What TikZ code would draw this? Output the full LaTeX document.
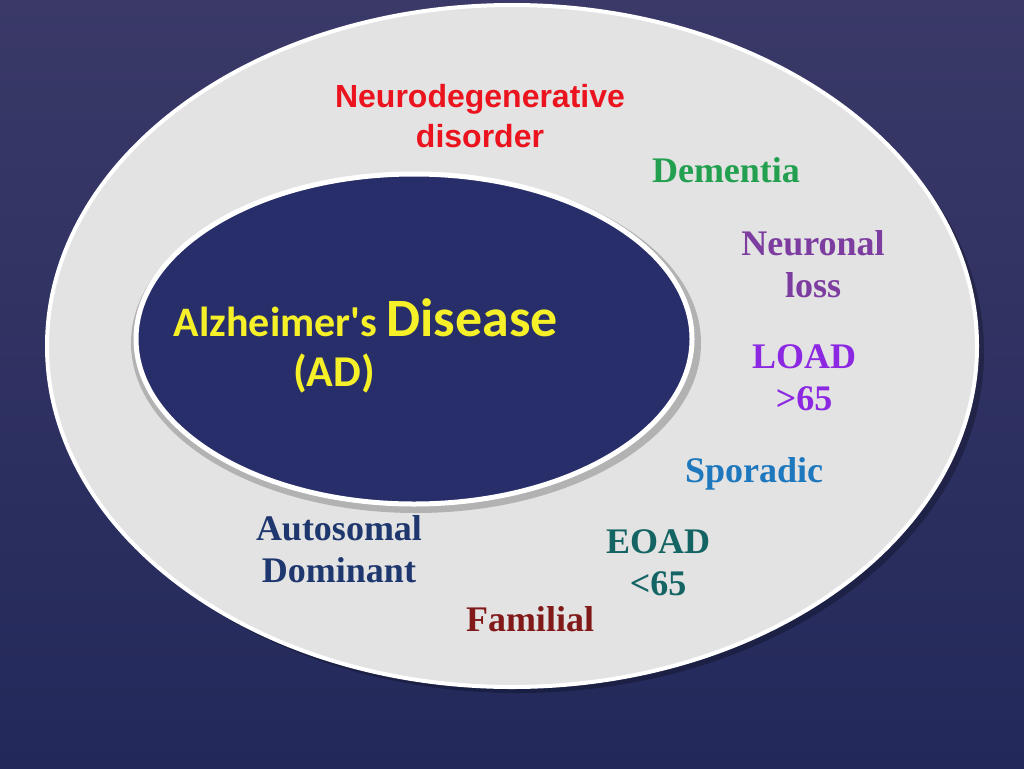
\documentclass[tikz,border=0pt]{standalone}
\usepackage{fontspec}
\usetikzlibrary{shapes.geometric}
\setmainfont{Liberation Serif}
\newfontfamily\hsans{Liberation Sans}
\newfontfamily\carl{Carlito}
\begin{document}
\begin{tikzpicture}[x=1pt,y=-1pt,
  lab/.style={font=\bfseries\fontsize{36}{42}\selectfont,align=center},
  yel/.style={font=\carl\bfseries,text={rgb,255:red,245;green,240;blue,40}}]
\definecolor{bgA}{HTML}{3A3968}\definecolor{bgB}{HTML}{22295A}
\shade[top color=bgA,bottom color=bgB] (0,0) rectangle (1024,768);
\useasboundingbox (0,0) rectangle (1024,768);
\fill[black,opacity=0.25] (518,352) ellipse [x radius=466,y radius=341];
\node[ellipse,draw=white,line width=4pt,fill=gray!22,minimum width=930,minimum height=682,inner sep=0] (outer) at (512,346) {};
\fill[gray!60] (416,343) ellipse [x radius=285,y radius=170];
\node[draw=white,line width=5pt,fill={rgb,255:red,40;green,46;blue,105},minimum width=556,minimum height=330,inner sep=0,shape=ellipse] (inner) at (414,339) {};
\node[font=\hsans\bfseries\fontsize{32}{40}\selectfont,text={rgb,255:red,235;green,20;blue,30},align=center] (nd) at (480,116) {Neurodegenerative\\disorder};
\node[lab,text={rgb,255:red,34;green,160;blue,80}] (dem) at (726,170) {Dementia};
\node[lab,text={rgb,255:red,125;green,60;blue,160}] (nl) at (813,264) {Neuronal\\loss};
\node[lab,text={rgb,255:red,140;green,40;blue,225}] (load) at (804,378) {LOAD\\{>}65};
\node[lab,text={rgb,255:red,30;green,120;blue,190}] (spo) at (754,474) {Sporadic};
\node[lab,text={rgb,255:red,20;green,100;blue,100}] (eoad) at (658,563) {EOAD\\{<}65};
\node[lab,text={rgb,255:red,130;green,25;blue,25}] (fam) at (530,619) {Familial};
\node[lab,text={rgb,255:red,30;green,55;blue,110}] (ad) at (339,549) {Autosomal\\Dominant};
\node[yel,font=\carl\bfseries\fontsize{42}{46}\selectfont] (alz) at (366,318)
 {Alzheimer's {\fontsize{54}{54}\selectfont Disease}};
\node[yel,font=\carl\bfseries\fontsize{44}{46}\selectfont] (adab) at (334,373) {(AD)};
\end{tikzpicture}
\end{document}
